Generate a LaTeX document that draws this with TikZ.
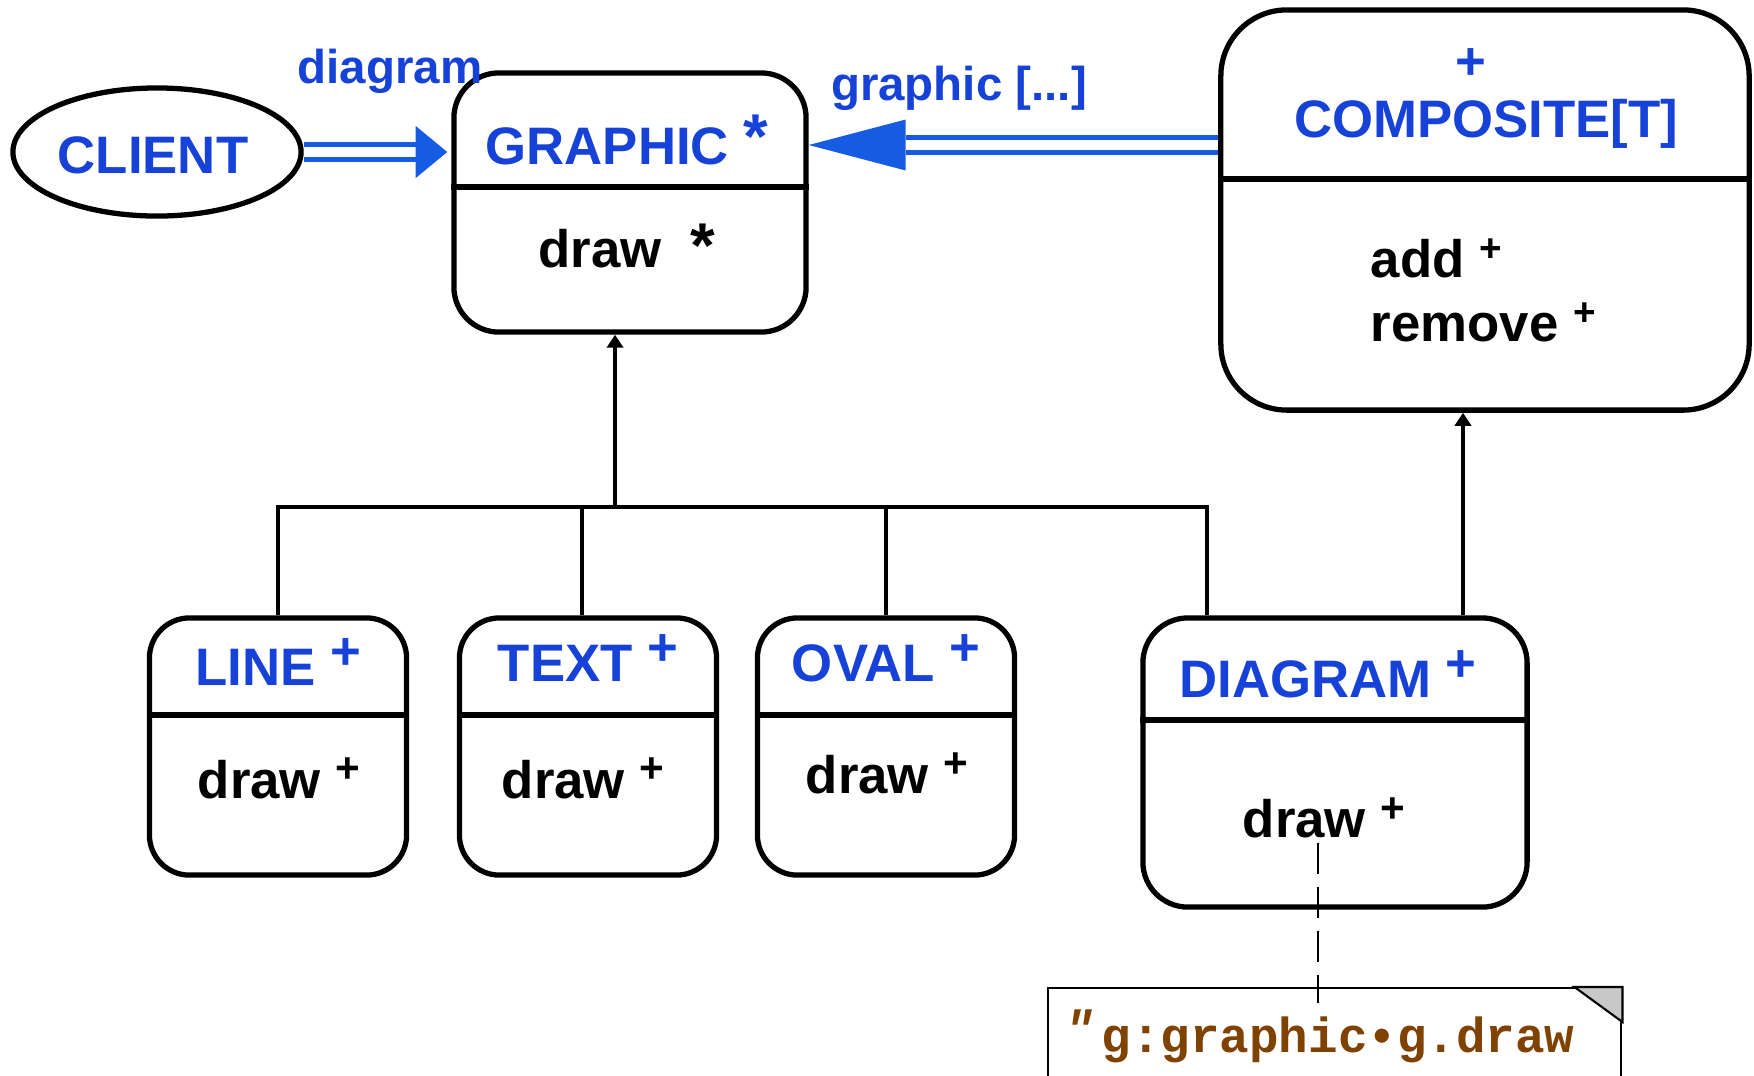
\documentclass[tikz,border=0pt]{standalone}
\usepackage{fontspec}
\setmainfont{Liberation Sans}
\setmonofont{Liberation Mono}
\usepackage{tikz}
\usetikzlibrary{arrows.meta}
\usetikzlibrary{calc, shapes.geometric}

\definecolor{textblue}{RGB}{22,66,216}
\definecolor{linkblue}{RGB}{22,92,226}
\definecolor{codebrown}{RGB}{128,66,0}
\definecolor{foldgray}{RGB}{200,200,200}

\newcommand{\vis}[2][4.5pt]{\raisebox{#1}{#2}}

\begin{document}
\begin{tikzpicture}[x=0.01cm, y=-0.01cm,
    classbox/.style={draw, line width=1.5pt, inner sep=0pt},
    divider/.style={line width=1.5pt},
    classname/.style={font=\bfseries\fontsize{15}{18}\selectfont, text=textblue, inner sep=0pt},
    operation/.style={font=\bfseries\fontsize{15}{18}\selectfont, inner sep=0pt},
    role/.style={font=\bfseries\fontsize{13.5}{16}\selectfont, text=textblue, inner sep=0pt},
    conn/.style={line width=1.2pt},
    inherit/.style={conn, -{Triangle[length=3.7pt, width=4.6pt]}},
    assoc/.style={draw=linkblue, double=white, line width=1.4pt, double distance=3pt},
    dashline/.style={line width=0.8pt, dash pattern=on 8.8pt off 3.7pt},
    notetext/.style={font=\ttfamily\bfseries\fontsize{14}{17}\selectfont, text=codebrown, inner sep=0pt}
]
    \clip (0,0) rectangle (1754,1075);

    % client
    \node[draw, ellipse, line width=1.5pt, minimum width=2.88cm, minimum height=1.28cm, inner sep=0pt] (client) at (157,152) {};
    \node[classname, anchor=base] (client name) at (153,173) {CLIENT};

    % deferred class
    \node[classbox, rounded corners=0.45cm, minimum width=3.52cm, minimum height=2.59cm] (graphic) at (630,202.5) {};
    \draw[divider] (graphic.west |- 0,187) -- (graphic.east |- 0,187);
    \node[classname, anchor=base] (graphic name) at (627,164) {GRAPHIC \vis[1.5pt]{\fontsize{18}{18}\selectfont *}};
    \node[operation, anchor=base] (graphic op) at (627,267) {draw\ \ \vis[0pt]{\fontsize{18}{18}\selectfont *}};

    % composite
    \node[classbox, rounded corners=0.66cm, minimum width=5.28cm, minimum height=4cm] (composite) at (1485,210) {};
    \draw[divider] (composite.west |- 0,179) -- (composite.east |- 0,179);
    \node[classname, anchor=base] (composite plus) at (1471,79) {+};
    \node[classname, anchor=base] (composite name) at (1486,137) {COMPOSITE[T]};
    \node[operation, anchor=base west] (composite add) at (1370,277) {add \vis[4.3pt]{\fontsize{11}{12}\selectfont +}};
    \node[operation, anchor=base west] (composite remove) at (1370,341) {remove \vis[4.3pt]{\fontsize{11}{12}\selectfont +}};

    % effective classes
    \foreach \cls/\cx/\cname/\ty/\ox/\dy in {line/278/LINE/685/279/798, text/588/TEXT/681/583/798, oval/886/OVAL/681/887/793} {
        \node[classbox, rounded corners=0.4cm, minimum size=2.57cm] (\cls) at (\cx,746.5) {};
        \draw[divider] (\cls.west |- 0,715) -- (\cls.east |- 0,715);
        \node[classname, anchor=base] (\cls name) at (\cx,\ty) {\cname\ \vis{+}};
        \node[operation, anchor=base] (\cls op) at (\ox,\dy) {draw \vis{\fontsize{12}{14}\selectfont +}};
    }

    \node[classbox, rounded corners=0.45cm, minimum width=3.84cm, minimum height=2.89cm] (diagram) at (1335,762.5) {};
    \draw[divider] (diagram.west |- 0,720) -- (diagram.east |- 0,720);
    \node[classname, anchor=base] (diagram name) at (1328,697) {DIAGRAM \vis{+}};
    \node[operation, anchor=base] (diagram op) at (1324,837) {draw \vis[4pt]{\fontsize{12}{14}\selectfont +}};

    % inheritance
    \coordinate (bus) at (615,507);
    \draw[conn] (line.north) |- (1207,507) -- (diagram.north -| 1207,0);
    \draw[conn] (text.north -| 582,0) -- (582,507);
    \draw[conn] (oval.north) -- (oval.north |- bus);
    \draw[inherit] (bus) -- (graphic.south -| bus);
    \draw[inherit] (diagram.north -| 1463,0) -- (composite.south -| 1463,0);

    % client and aggregation links
    \draw[assoc] (client.east) -- ++(112,0) coordinate (client head);
    \fill[linkblue] ($(client head)+(0,-26)$) -- ($(graphic.west |- client head)+(-4,0)$) -- ($(client head)+(0,26)$) -- cycle;
    \draw[assoc] (composite.west |- 0,145) -- ($(graphic.east |- 0,145)+(97,0)$) coordinate (composite head);
    \fill[linkblue] ($(composite head)+(0,-25.5)$) -- (graphic.east |- composite head) -- ($(composite head)+(0,25.5)$) -- cycle;

    \node[role, anchor=base] (diagram role) at (390,83) {diagram};
    \node[role, anchor=base] (graphic role) at (959,100) {graphic [...]};

    % note on draw
    \node[draw, line width=0.6pt, fill=white, anchor=north west, minimum width=5.73cm, minimum height=1.5cm, inner sep=0pt] (note) at (1047,987) {};
    \filldraw[fill=foldgray, line width=0.6pt] (note.north east) -- ++(-48,0) -- ++(48,35) -- cycle;
    \node[notetext, anchor=base west] (quote) at (1064,1045) {\itshape ″};
    \node[notetext, anchor=base west] (call) at (1101,1052) {g:graphic•g.draw};
    \draw[dashline] (1318,843) coordinate (hook) -- ($(note.north -| hook)+(0,16)$);
\end{tikzpicture}
\end{document}
